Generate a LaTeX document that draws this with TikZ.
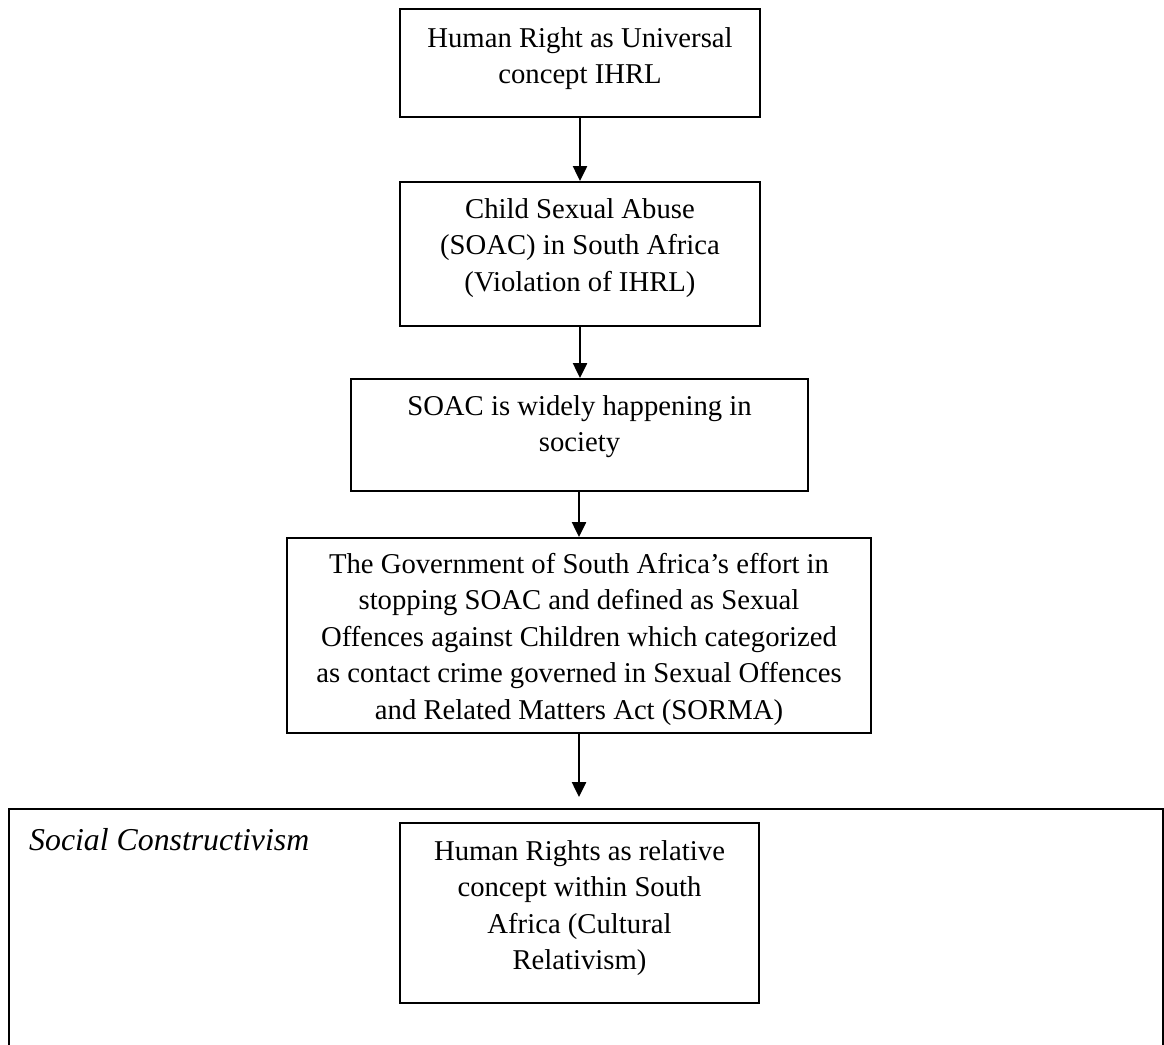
\documentclass[tikz,border=0pt]{standalone}
\usepackage{fontspec}
\setmainfont{Liberation Serif}
\usetikzlibrary{arrows.meta}
\begin{document}
\begin{tikzpicture}[x=1pt,y=-1pt,
  flowbox/.style={draw, line width=2pt, inner sep=0pt},
  txt/.style={inner sep=0pt, anchor=north, align=center,
    font=\fontsize{28.7}{36.5}\selectfont},
  arr/.style={line width=2.5pt, -{Triangle[width=14pt,length=15pt]}}]
\useasboundingbox (0,0) rectangle (1164,1044);
\fill[white] (0,0) rectangle (1164,1044);

% boxes
\node[flowbox, minimum width=360pt, minimum height=108pt] (b1) at (580,63) {};
\node[txt] (t1) at (580,27) {Human Right as Universal\\concept IHRL};

\node[flowbox, minimum width=360pt, minimum height=144pt] (b2) at (580,254) {};
\node[txt] (t2) at (580,198) {Child Sexual Abuse\\(SOAC) in South Africa\\(Violation of IHRL)};

\node[flowbox, minimum width=457pt, minimum height=112pt] (b3) at (579.5,435) {};
\node[txt] (t3) at (579.5,395) {SOAC is widely happening in\\society};

\node[flowbox, minimum width=584pt, minimum height=195pt] (b4) at (579,635.5) {};
\node[txt] (t4) at (579,553) {The Government of South Africa{\char"27}s effort in\\stopping SOAC and defined as Sexual\\Offences against Children which categorized\\as contact crime governed in Sexual Offences\\and Related Matters Act (SORMA)};

% outer frame (bottom edge lies below the picture)
\draw[line width=2pt] (9,1060) -- (9,809) -- (1163,809) -- (1163,1060);
\node[inner sep=0pt, anchor=base west, font=\fontsize{31.8}{36}\selectfont\itshape] (sc) at (29,850) {Social Constructivism};

\node[flowbox, minimum width=359pt, minimum height=180pt] (b5) at (579.5,913) {};
\node[txt] (t5) at (579.5,840) {Human Rights as relative\\concept within South\\Africa (Cultural\\Relativism)};

% connectors
\coordinate (c5) at (579,797);
\draw[arr] (b1.south) -- (b2.north);
\draw[arr] (b2.south) -- (b2.south |- b3.north);
\draw[arr] (b3.south -| b4.north) -- (b4.north);
\draw[arr] (b4.south) -- (c5);
\end{tikzpicture}
\end{document}
